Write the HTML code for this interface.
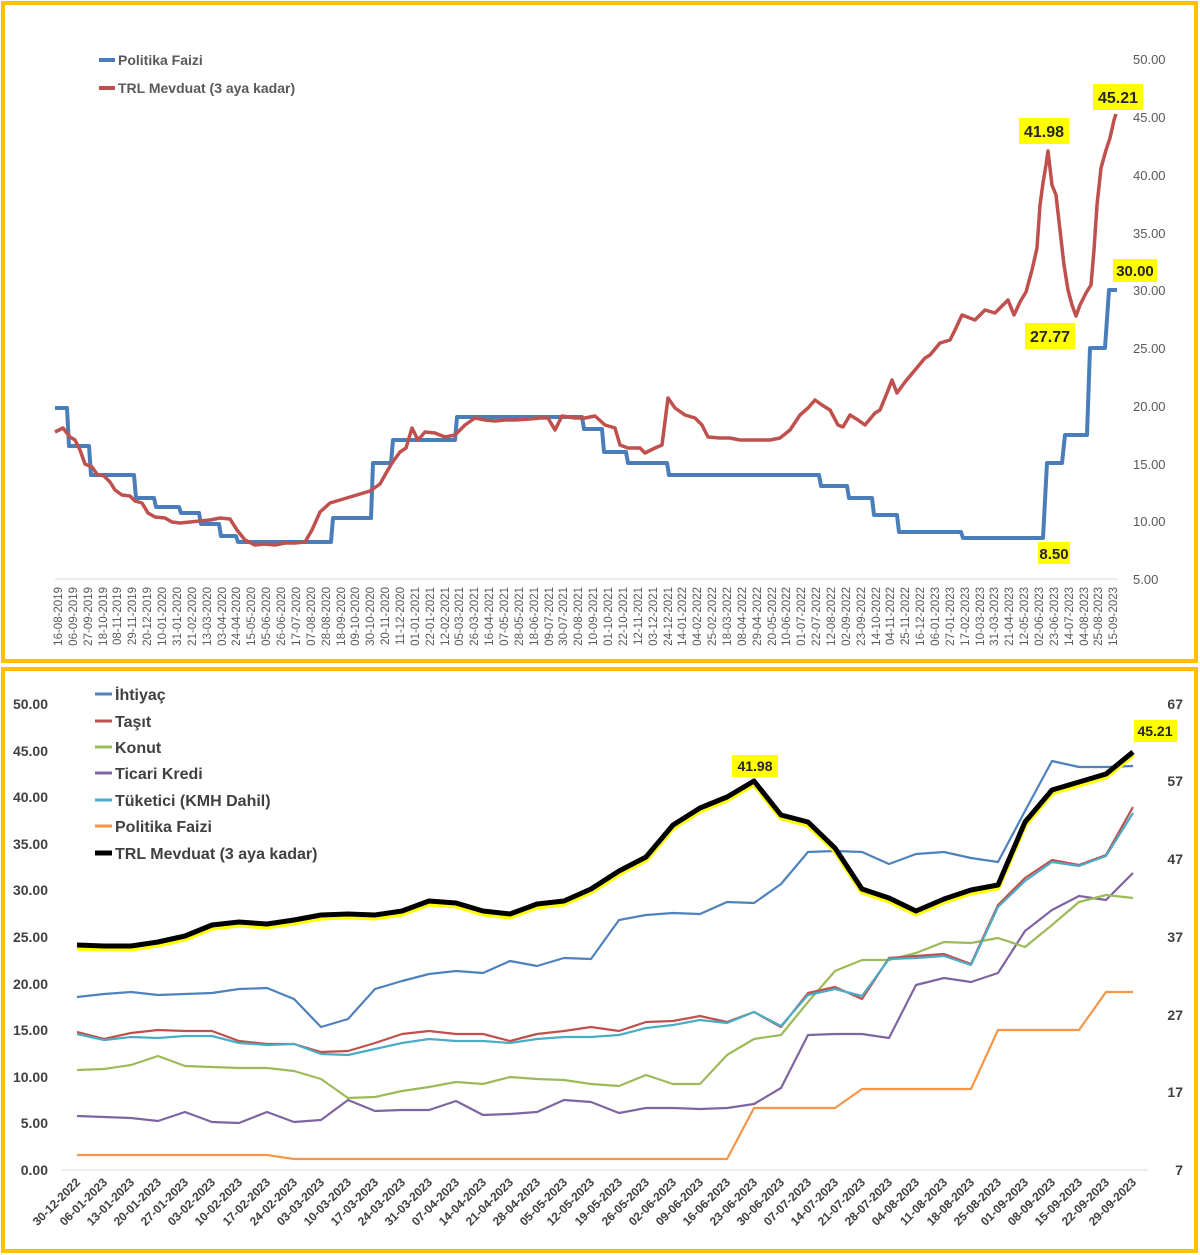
<!DOCTYPE html>
<html><head><meta charset="utf-8"><style>
html,body{margin:0;padding:0;background:#fff;}
svg{display:block;font-family:"Liberation Sans",sans-serif;}
</style></head><body>
<svg width="1200" height="1255" viewBox="0 0 1200 1255" xmlns="http://www.w3.org/2000/svg">
<rect x="0" y="0" width="1200" height="1255" fill="#fff"/>
<rect x="3" y="3" width="1193" height="658" fill="none" stroke="#ffc000" stroke-width="4"/>
<rect x="3" y="669" width="1193" height="582" fill="none" stroke="#ffc000" stroke-width="4"/>

<!-- TOP CHART -->
<line x1="55" y1="579" x2="1118" y2="579" stroke="#d9d9d9" stroke-width="1"/>
<g font-size="13" fill="#595959" text-anchor="start">
<text x="1133" y="64">50.00</text><text x="1133" y="122">45.00</text><text x="1133" y="180">40.00</text><text x="1133" y="238">35.00</text><text x="1133" y="295">30.00</text><text x="1133" y="353">25.00</text><text x="1133" y="411">20.00</text><text x="1133" y="469">15.00</text><text x="1133" y="526">10.00</text><text x="1133" y="584">5.00</text>
</g>
<g font-size="11.5" fill="#595959" text-anchor="end">
<text transform="translate(62,587) rotate(-90)">16-08-2019</text>
<text transform="translate(77,587) rotate(-90)">06-09-2019</text>
<text transform="translate(92,587) rotate(-90)">27-09-2019</text>
<text transform="translate(107,587) rotate(-90)">18-10-2019</text>
<text transform="translate(121,587) rotate(-90)">08-11-2019</text>
<text transform="translate(136,587) rotate(-90)">29-11-2019</text>
<text transform="translate(151,587) rotate(-90)">20-12-2019</text>
<text transform="translate(166,587) rotate(-90)">10-01-2020</text>
<text transform="translate(181,587) rotate(-90)">31-01-2020</text>
<text transform="translate(196,587) rotate(-90)">21-02-2020</text>
<text transform="translate(211,587) rotate(-90)">13-03-2020</text>
<text transform="translate(226,587) rotate(-90)">03-04-2020</text>
<text transform="translate(240,587) rotate(-90)">24-04-2020</text>
<text transform="translate(255,587) rotate(-90)">15-05-2020</text>
<text transform="translate(270,587) rotate(-90)">05-06-2020</text>
<text transform="translate(285,587) rotate(-90)">26-06-2020</text>
<text transform="translate(300,587) rotate(-90)">17-07-2020</text>
<text transform="translate(315,587) rotate(-90)">07-08-2020</text>
<text transform="translate(330,587) rotate(-90)">28-08-2020</text>
<text transform="translate(345,587) rotate(-90)">18-09-2020</text>
<text transform="translate(359,587) rotate(-90)">09-10-2020</text>
<text transform="translate(374,587) rotate(-90)">30-10-2020</text>
<text transform="translate(389,587) rotate(-90)">20-11-2020</text>
<text transform="translate(404,587) rotate(-90)">11-12-2020</text>
<text transform="translate(419,587) rotate(-90)">01-01-2021</text>
<text transform="translate(434,587) rotate(-90)">22-01-2021</text>
<text transform="translate(449,587) rotate(-90)">12-02-2021</text>
<text transform="translate(463,587) rotate(-90)">05-03-2021</text>
<text transform="translate(478,587) rotate(-90)">26-03-2021</text>
<text transform="translate(493,587) rotate(-90)">16-04-2021</text>
<text transform="translate(508,587) rotate(-90)">07-05-2021</text>
<text transform="translate(523,587) rotate(-90)">28-05-2021</text>
<text transform="translate(538,587) rotate(-90)">18-06-2021</text>
<text transform="translate(553,587) rotate(-90)">09-07-2021</text>
<text transform="translate(567,587) rotate(-90)">30-07-2021</text>
<text transform="translate(582,587) rotate(-90)">20-08-2021</text>
<text transform="translate(597,587) rotate(-90)">10-09-2021</text>
<text transform="translate(612,587) rotate(-90)">01-10-2021</text>
<text transform="translate(627,587) rotate(-90)">22-10-2021</text>
<text transform="translate(642,587) rotate(-90)">12-11-2021</text>
<text transform="translate(657,587) rotate(-90)">03-12-2021</text>
<text transform="translate(672,587) rotate(-90)">24-12-2021</text>
<text transform="translate(686,587) rotate(-90)">14-01-2022</text>
<text transform="translate(701,587) rotate(-90)">04-02-2022</text>
<text transform="translate(716,587) rotate(-90)">25-02-2022</text>
<text transform="translate(731,587) rotate(-90)">18-03-2022</text>
<text transform="translate(746,587) rotate(-90)">08-04-2022</text>
<text transform="translate(761,587) rotate(-90)">29-04-2022</text>
<text transform="translate(776,587) rotate(-90)">20-05-2022</text>
<text transform="translate(790,587) rotate(-90)">10-06-2022</text>
<text transform="translate(805,587) rotate(-90)">01-07-2022</text>
<text transform="translate(820,587) rotate(-90)">22-07-2022</text>
<text transform="translate(835,587) rotate(-90)">12-08-2022</text>
<text transform="translate(850,587) rotate(-90)">02-09-2022</text>
<text transform="translate(865,587) rotate(-90)">23-09-2022</text>
<text transform="translate(880,587) rotate(-90)">14-10-2022</text>
<text transform="translate(894,587) rotate(-90)">04-11-2022</text>
<text transform="translate(909,587) rotate(-90)">25-11-2022</text>
<text transform="translate(924,587) rotate(-90)">16-12-2022</text>
<text transform="translate(939,587) rotate(-90)">06-01-2023</text>
<text transform="translate(954,587) rotate(-90)">27-01-2023</text>
<text transform="translate(969,587) rotate(-90)">17-02-2023</text>
<text transform="translate(984,587) rotate(-90)">10-03-2023</text>
<text transform="translate(998,587) rotate(-90)">31-03-2023</text>
<text transform="translate(1013,587) rotate(-90)">21-04-2023</text>
<text transform="translate(1028,587) rotate(-90)">12-05-2023</text>
<text transform="translate(1043,587) rotate(-90)">02-06-2023</text>
<text transform="translate(1058,587) rotate(-90)">23-06-2023</text>
<text transform="translate(1073,587) rotate(-90)">14-07-2023</text>
<text transform="translate(1088,587) rotate(-90)">04-08-2023</text>
<text transform="translate(1102,587) rotate(-90)">25-08-2023</text>
<text transform="translate(1117,587) rotate(-90)">15-09-2023</text>
</g>
<!-- blue policy -->
<polyline fill="none" stroke="#4a7ebb" stroke-width="4" stroke-linejoin="round" points="55,408 67,408 69,446 89,446 91,475 134,475 136,498 154,498 156,507 179,507 181,513 199,513 201,524 219,524 221,536 236,536 238,542 331,542 333,518 371,518 373,463 391,463 393,440 455,440 457,417 582,417 584,429 602,429 604,452 626,452 628,463 667,463 669,475 819,475 821,486 847,486 849,498 872,498 874,515 897,515 899,532 961,532 963,538 1043,538 1047,463 1062,463 1065,435 1087,435 1090,348 1105,348 1109,290 1117,290"/>
<!-- red deposit -->
<polyline fill="none" stroke="#c0504d" stroke-width="3.5" stroke-linejoin="round" points="55,432 63,428 70,437 75,440 80,450 85,464 92,467 97,474 104,476 110,482 115,490 122,495 130,496 135,501 142,503 148,513 155,517 165,518 172,522 180,523 190,522 200,521 210,520 220,518 230,519 237,530 245,540 255,545 265,544 275,545 285,543 295,543 305,542 312,530 320,512 330,503 340,500 350,497 360,494 370,491 380,484 385,475 392,463 400,452 406,448 412,428 418,440 425,432 435,433 445,437 455,435 465,425 475,418 485,420 495,421 505,420 515,420 530,419 540,418 548,418 555,430 562,416 575,418 585,418 595,416 605,425 615,428 620,445 628,448 640,448 645,453 655,448 662,445 668,398 675,408 685,415 695,418 702,425 708,437 720,438 730,438 740,440 760,440 770,440 780,438 790,430 800,415 808,408 815,400 822,405 830,410 838,425 843,427 850,415 858,420 865,425 875,413 880,410 887,393 892,380 897,393 905,382 915,370 925,358 930,355 940,343 950,340 955,330 962,315 975,320 985,310 995,313 1003,305 1008,300 1014,315 1020,302 1026,292 1032,270 1037,248 1040,205 1043,183 1046,165 1048,151 1052,185 1056,195 1060,230 1064,265 1068,290 1072,305 1076,316 1080,305 1086,293 1091,285 1094,250 1097,205 1101,168 1106,150 1110,138 1114,120 1116,114"/>
<!-- legend top -->
<line x1="99" y1="60" x2="115" y2="60" stroke="#4a7ebb" stroke-width="4"/>
<text x="118" y="65" font-size="14" font-weight="bold" fill="#595959">Politika Faizi</text>
<line x1="99" y1="88" x2="115" y2="88" stroke="#c0504d" stroke-width="4"/>
<text x="118" y="93" font-size="14" font-weight="bold" fill="#595959">TRL Mevduat (3 aya kadar)</text>
<!-- annotations top -->
<g font-size="16" font-weight="bold" fill="#262626" text-anchor="middle">
<rect x="1019" y="118" width="50" height="26" fill="#ffff00"/><text x="1044" y="137">41.98</text>
<rect x="1093" y="84" width="50" height="26" fill="#ffff00"/><text x="1118" y="103">45.21</text>
<rect x="1113" y="259" width="44" height="23" fill="#ffff00"/><text x="1135" y="276" font-size="15">30.00</text>
<rect x="1025" y="323" width="50" height="26" fill="#ffff00"/><text x="1050" y="342">27.77</text>
<rect x="1038" y="542" width="32" height="22" fill="#ffff00"/><text x="1054" y="559" font-size="15">8.50</text>
</g>

<!-- BOTTOM CHART -->
<line x1="62" y1="1170" x2="1148" y2="1170" stroke="#d9d9d9" stroke-width="1"/>
<g font-size="14" font-weight="bold" fill="#404040" text-anchor="end">
<text x="48" y="709">50.00</text><text x="48" y="756">45.00</text><text x="48" y="802">40.00</text><text x="48" y="849">35.00</text><text x="48" y="895">30.00</text><text x="48" y="942">25.00</text><text x="48" y="989">20.00</text><text x="48" y="1035">15.00</text><text x="48" y="1082">10.00</text><text x="48" y="1128">5.00</text><text x="48" y="1175">0.00</text>
</g>
<g font-size="14" font-weight="bold" fill="#404040" text-anchor="end">
<text x="1183" y="709">67</text><text x="1183" y="786">57</text><text x="1183" y="864">47</text><text x="1183" y="942">37</text><text x="1183" y="1020">27</text><text x="1183" y="1097">17</text><text x="1183" y="1175">7</text>
</g>
<g font-size="12" font-weight="bold" fill="#404040" text-anchor="end">
<text transform="translate(81,1183) rotate(-45)">30-12-2022</text>
<text transform="translate(108,1183) rotate(-45)">06-01-2023</text>
<text transform="translate(135,1183) rotate(-45)">13-01-2023</text>
<text transform="translate(162,1183) rotate(-45)">20-01-2023</text>
<text transform="translate(189,1183) rotate(-45)">27-01-2023</text>
<text transform="translate(216,1183) rotate(-45)">03-02-2023</text>
<text transform="translate(243,1183) rotate(-45)">10-02-2023</text>
<text transform="translate(271,1183) rotate(-45)">17-02-2023</text>
<text transform="translate(298,1183) rotate(-45)">24-02-2023</text>
<text transform="translate(325,1183) rotate(-45)">03-03-2023</text>
<text transform="translate(352,1183) rotate(-45)">10-03-2023</text>
<text transform="translate(379,1183) rotate(-45)">17-03-2023</text>
<text transform="translate(406,1183) rotate(-45)">24-03-2023</text>
<text transform="translate(433,1183) rotate(-45)">31-03-2023</text>
<text transform="translate(460,1183) rotate(-45)">07-04-2023</text>
<text transform="translate(487,1183) rotate(-45)">14-04-2023</text>
<text transform="translate(514,1183) rotate(-45)">21-04-2023</text>
<text transform="translate(541,1183) rotate(-45)">28-04-2023</text>
<text transform="translate(568,1183) rotate(-45)">05-05-2023</text>
<text transform="translate(595,1183) rotate(-45)">12-05-2023</text>
<text transform="translate(623,1183) rotate(-45)">19-05-2023</text>
<text transform="translate(650,1183) rotate(-45)">26-05-2023</text>
<text transform="translate(677,1183) rotate(-45)">02-06-2023</text>
<text transform="translate(704,1183) rotate(-45)">09-06-2023</text>
<text transform="translate(731,1183) rotate(-45)">16-06-2023</text>
<text transform="translate(758,1183) rotate(-45)">23-06-2023</text>
<text transform="translate(785,1183) rotate(-45)">30-06-2023</text>
<text transform="translate(812,1183) rotate(-45)">07-07-2023</text>
<text transform="translate(839,1183) rotate(-45)">14-07-2023</text>
<text transform="translate(866,1183) rotate(-45)">21-07-2023</text>
<text transform="translate(893,1183) rotate(-45)">28-07-2023</text>
<text transform="translate(920,1183) rotate(-45)">04-08-2023</text>
<text transform="translate(948,1183) rotate(-45)">11-08-2023</text>
<text transform="translate(975,1183) rotate(-45)">18-08-2023</text>
<text transform="translate(1002,1183) rotate(-45)">25-08-2023</text>
<text transform="translate(1029,1183) rotate(-45)">01-09-2023</text>
<text transform="translate(1056,1183) rotate(-45)">08-09-2023</text>
<text transform="translate(1083,1183) rotate(-45)">15-09-2023</text>
<text transform="translate(1110,1183) rotate(-45)">22-09-2023</text>
<text transform="translate(1137,1183) rotate(-45)">29-09-2023</text>
</g>
<g fill="none" stroke-width="2.2" stroke-linejoin="round">
<polyline stroke="#f79646" points="77,1155 104,1155 131,1155 158,1155 185,1155 212,1155 239,1155 267,1155 294,1159 321,1159 348,1159 375,1159 402,1159 429,1159 456,1159 483,1159 510,1159 537,1159 564,1159 591,1159 619,1159 646,1159 673,1159 700,1159 727,1159 754,1108 781,1108 808,1108 835,1108 862,1089 889,1089 916,1089 944,1089 971,1089 998,1030 1025,1030 1052,1030 1079,1030 1106,992 1133,992"/>
<polyline stroke="#8064a2" points="77,1116 104,1117 131,1118 158,1121 185,1112 212,1122 239,1123 267,1112 294,1122 321,1120 348,1100 375,1111 402,1110 429,1110 456,1101 483,1115 510,1114 537,1112 564,1100 591,1102 619,1113 646,1108 673,1108 700,1109 727,1108 754,1104 781,1088 808,1035 835,1034 862,1034 889,1038 916,985 944,978 971,982 998,973 1025,931 1052,910 1079,896 1106,900 1133,873"/>
<polyline stroke="#9bbb59" points="77,1070 104,1069 131,1065 158,1056 185,1066 212,1067 239,1068 267,1068 294,1071 321,1079 348,1098 375,1097 402,1091 429,1087 456,1082 483,1084 510,1077 537,1079 564,1080 591,1084 619,1086 646,1075 673,1084 700,1084 727,1055 754,1039 781,1035 808,1002 835,971 862,960 889,960 916,953 944,942 971,943 998,938 1025,947 1052,925 1079,902 1106,895 1133,898"/>
<polyline stroke="#c0504d" points="77,1032 104,1039 131,1033 158,1030 185,1031 212,1031 239,1041 267,1044 294,1044 321,1052 348,1051 375,1043 402,1034 429,1031 456,1034 483,1034 510,1041 537,1034 564,1031 591,1027 619,1031 646,1022 673,1021 700,1016 727,1022 754,1012 781,1027 808,993 835,987 862,999 889,958 916,956 944,954 971,964 998,905 1025,878 1052,860 1079,865 1106,855 1133,807"/>
<polyline stroke="#4bacc6" points="77,1034 104,1040 131,1037 158,1038 185,1036 212,1036 239,1043 267,1045 294,1044 321,1054 348,1055 375,1049 402,1043 429,1039 456,1041 483,1041 510,1043 537,1039 564,1037 591,1037 619,1035 646,1028 673,1025 700,1020 727,1023 754,1012 781,1026 808,995 835,989 862,996 889,959 916,958 944,956 971,965 998,907 1025,881 1052,862 1079,866 1106,856 1133,813"/>
<polyline stroke="#4f81bd" points="77,997 104,994 131,992 158,995 185,994 212,993 239,989 267,988 294,999 321,1027 348,1019 375,989 402,981 429,974 456,971 483,973 510,961 537,966 564,958 591,959 619,920 646,915 673,913 700,914 727,902 754,903 781,884 808,852 835,851 862,852 889,864 916,854 944,852 971,858 998,862 1025,811 1052,761 1079,767 1106,767 1133,766"/>
</g>
<polyline fill="none" stroke="#ffff00" stroke-width="5" stroke-linejoin="round" transform="translate(0,3)" points="77,945 104,946 131,946 158,942 185,936 212,925 239,922 267,924 294,920 321,915 348,914 375,915 402,911 429,901 456,903 483,911 510,914 537,904 564,901 591,889 619,871 646,857 673,825 700,808 727,797 754,781 781,815 808,822 835,848 862,889 889,898 916,911 944,899 971,890 998,885 1025,822 1052,790 1079,782 1106,774 1133,752"/>
<polyline fill="none" stroke="#000" stroke-width="5" stroke-linejoin="round" points="77,945 104,946 131,946 158,942 185,936 212,925 239,922 267,924 294,920 321,915 348,914 375,915 402,911 429,901 456,903 483,911 510,914 537,904 564,901 591,889 619,871 646,857 673,825 700,808 727,797 754,781 781,815 808,822 835,848 862,889 889,898 916,911 944,899 971,890 998,885 1025,822 1052,790 1079,782 1106,774 1133,752"/>
<g font-size="14" font-weight="bold" fill="#262626" text-anchor="middle">
<rect x="732" y="755" width="46" height="22" fill="#ffff00"/><text x="755" y="771">41.98</text>
<rect x="1134" y="720" width="43" height="22" fill="#ffff00"/><text x="1155" y="736">45.21</text>
</g>
<g stroke-width="3">
<line x1="95" y1="694" x2="112" y2="694" stroke="#4f81bd"/>
<line x1="95" y1="721" x2="112" y2="721" stroke="#c0504d"/>
<line x1="95" y1="747" x2="112" y2="747" stroke="#9bbb59"/>
<line x1="95" y1="773" x2="112" y2="773" stroke="#8064a2"/>
<line x1="95" y1="800" x2="112" y2="800" stroke="#4bacc6"/>
<line x1="95" y1="826" x2="112" y2="826" stroke="#f79646"/>
<line x1="95" y1="853" x2="112" y2="853" stroke="#000" stroke-width="5"/>
</g>
<g font-size="16" font-weight="bold" fill="#404040">
<text x="115" y="700">İhtiyaç</text>
<text x="115" y="727">Taşıt</text>
<text x="115" y="753">Konut</text>
<text x="115" y="779">Ticari Kredi</text>
<text x="115" y="806">Tüketici (KMH Dahil)</text>
<text x="115" y="832">Politika Faizi</text>
<text x="115" y="859">TRL Mevduat (3 aya kadar)</text>
</g>
</svg>
</body></html>
